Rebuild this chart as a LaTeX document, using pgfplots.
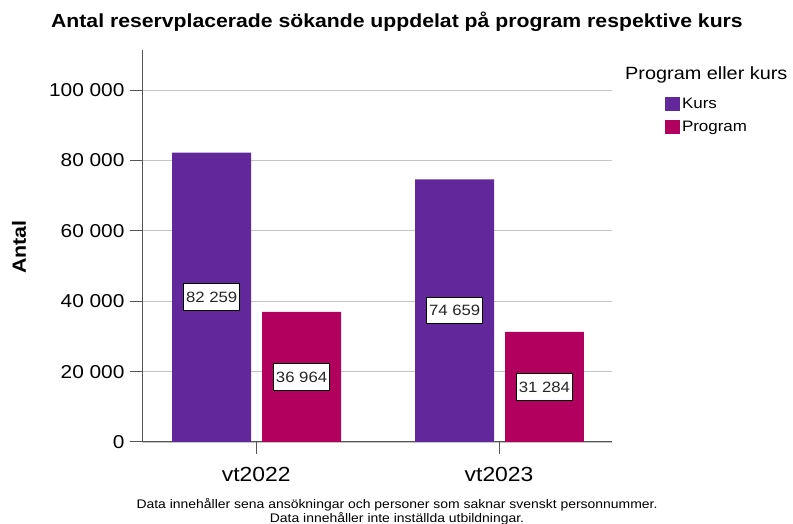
\documentclass[border=0pt]{standalone}
\usepackage{fontspec}
\setmainfont{Liberation Sans}[FakeStretch=1.12]
\usepackage{pgfplots}
\usepackage{pgfplotstable}
\pgfplotsset{compat=1.18}
\definecolor{kurs}{HTML}{62289B}
\definecolor{prog}{HTML}{B1005E}
\definecolor{gridc}{HTML}{C4C4C4}
\definecolor{axc}{HTML}{555555}
\pgfplotstableread{
x y
0 82259
1 74659
}\kurs
\pgfplotstableread{
x y
0 36964
1 31284
}\prog
\begin{document}
\begin{tikzpicture}[x=1bp,y=1bp]
\path[use as bounding box] (0,0) rectangle (793,524);
\begin{axis}[
  at={(142bp,82bp)}, anchor=south west,
  scale only axis, width=470bp, height=392bp,
  xmin=-0.47, xmax=1.465, ymin=0, ymax=111400,
  axis x line*=bottom, axis y line*=left,
  axis line style={draw=axc, line width=1bp, -},
  xtick={0,1}, xticklabels={vt2022,vt2023},
  ytick={0,20000,40000,60000,80000,100000},
  ymajorgrids, grid style={draw=gridc, line width=0.9bp},
  tick align=outside, major tick length=12bp,
  tick style={draw=axc, line width=1bp},
  scaled y ticks=false,
  yticklabel style={font=\fontsize{18.7}{19}\selectfont, /pgf/number format/fixed, /pgf/number format/1000 sep={\ }, /pgf/number format/assume math mode=true, xshift=-2bp},
  xticklabel style={font=\fontsize{20.5}{21}\selectfont, yshift=-10bp},
  legend style={at={(rel axis cs:1.106,0.887)}, anchor=north west, draw=none, fill=none,
    font=\fontsize{15.2}{16}\selectfont, row sep=7bp, /tikz/every even column/.append style={column sep=1bp}},
  legend cell align=left,
  legend image code/.code={\fill[#1] (0bp,-7bp) rectangle (15bp,7bp);},
  nodes near coords style={font=\fontsize{15}{15}\selectfont, text=black!85, fill=white, draw=black, line width=1bp, inner xsep=2.5bp, inner ysep=8bp, anchor=center},
]
\addplot[ybar, fill=kurs, draw=none, bar width=0.325, bar shift=-0.183] table[x=x,y=y] {\kurs};
\addlegendentry{Kurs}
\addplot[ybar, fill=prog, draw=none, bar width=0.325, bar shift=0.187] table[x=x,y=y] {\prog};
\addlegendentry{Program}
\addplot[draw=none, mark=none, forget plot, point meta=explicit,
  nodes near coords={\pgfmathprintnumber[1000 sep={\ }, assume math mode=true]{\pgfplotspointmeta}}]
  table[x expr=\thisrow{x}-0.183, y expr=\thisrow{y}/2, meta=y] {\kurs};
\addplot[draw=none, mark=none, forget plot, point meta=explicit,
  nodes near coords={\pgfmathprintnumber[1000 sep={\ }, assume math mode=true]{\pgfplotspointmeta}}]
  table[x expr=\thisrow{x}+0.187, y expr=\thisrow{y}/2, meta=y] {\prog};
\end{axis}
\node[font=\bfseries\fontsize{19}{19}\selectfont] at (397,502) {Antal reservplacerade sökande uppdelat på program respektive kurs};
\node[font=\bfseries\fontsize{19.2}{19}\selectfont, rotate=90] at (19,277) {Antal};
\node[font=\fontsize{17.8}{18}\selectfont, anchor=west, inner xsep=0pt] at (625,449) {Program eller kurs};
\node[font=\fontsize{12.5}{12.5}\selectfont, align=center, inner sep=0pt] at (397,12.5) {Data innehåller sena ansökningar och personer som saknar svenskt personnummer.\\Data innehåller inte inställda utbildningar.};
\end{tikzpicture}
\end{document}
